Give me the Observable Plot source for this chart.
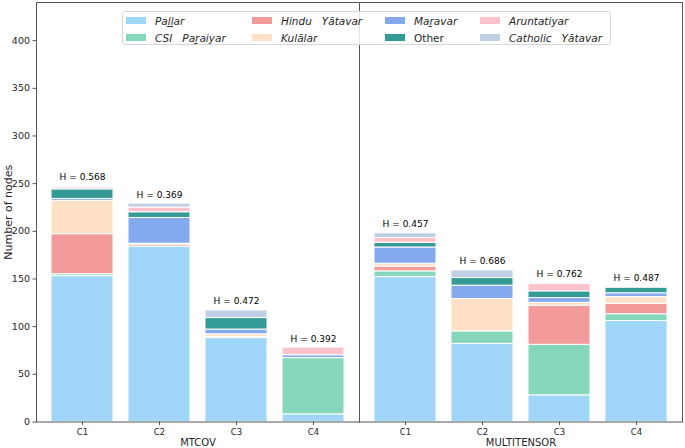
<!DOCTYPE html>
<html><head><meta charset="utf-8">
<script src="https://cdn.jsdelivr.net/npm/d3@7"></script>
<script src="https://cdn.jsdelivr.net/npm/@observablehq/plot@0.6"></script>
<style>
body{margin:0;background:#fff;}
#wrap{position:relative;width:685px;height:448px;font-family:"DejaVu Sans",sans-serif;}
#legend{position:absolute;left:122px;top:11px;width:489px;height:34px;box-sizing:border-box;
  border:1px solid #d6d6d6;border-radius:3px;background:rgba(255,255,255,0.85);
  display:grid;grid-auto-flow:column;grid-template-rows:17px 17px;grid-template-columns:126px 133px 95px auto;
  padding-left:3px;font-size:10.5px;color:#262626;}
#legend .it{display:flex;align-items:center;white-space:pre;}
#legend .sw{width:20px;height:7px;margin-right:9px;flex:none;}
</style></head><body><div id="wrap"></div>
<script>
const methods = ["MTCOV", "MULTITENSOR"];
const clusters = ["C1", "C2", "C3", "C4"];
const groups = ["Paḻḻar", "CSI   Paṟaiyar", "Hindu   Yātavar", "Kulālar", "Maṟavar", "Other", "Aruntatiyar", "Catholic   Yātavar"];
const italic = [true, true, true, true, true, false, true, true];
const colors = ["#a0d6f8", "#85d6bb", "#f29b9a", "#fde0c5", "#84a9ee", "#349b97", "#fec2cd", "#bfd0e6"];
const yLabel = "Number of nodes";
// values: MTCOV C1..C4, MULTITENSOR C1..C4
const pallar      = [153, 184, 88,  8, 152, 82, 28, 106];
const csi         = [  2,   0,  1, 59,   6, 13, 53,   7];
const hindu       = [ 42,   2,  0,  0,   5,  0, 41,  11];
const kulalar     = [ 35,   1,  3,  0,   3, 34,  3,   7];
const maravar     = [  2,  27,  5,  3,  17, 14,  5,   4];
const other       = [ 10,   6, 12,  0,   5,  8,  7,   6];
const aruntatiyar = [  2,   5,  0,  8,   5,  0,  8,   0];
const catholic    = [  1,   4,  8,  0,   5,  8,  1,   1];
const hValues     = [0.568, 0.369, 0.472, 0.392, 0.457, 0.686, 0.762, 0.487];

const series = [pallar, csi, hindu, kulalar, maravar, other, aruntatiyar, catholic];
const rows = [];
groups.forEach((g, gi) => methods.forEach((m, mi) => clusters.forEach((c, ci) => {
  const v = series[gi][mi * 4 + ci];
  if (v > 0) rows.push({group: g, method: m, cluster: c, value: v});
})));
const labels = [];
methods.forEach((m, mi) => clusters.forEach((c, ci) => {
  const total = d3.sum(series, s => s[mi * 4 + ci]);
  labels.push({method: m, cluster: c, total, text: "H = " + hValues[mi * 4 + ci].toFixed(3)});
}));

const chart = Plot.plot({
  width: 685, height: 448,
  marginLeft: 35, marginRight: 3, marginTop: 2, marginBottom: 26.5,
  style: {fontFamily: "DejaVu Sans, sans-serif", color: "#262626", background: "white"},
  fx: {domain: methods, padding: 0, axis: null},
  x: {domain: clusters, paddingInner: 0.2, paddingOuter: 0.18, axis: null},
  y: {domain: [0, 440], axis: null},
  color: {domain: groups, range: colors},
  marks: [
    Plot.barY(rows, Plot.stackY({x: "cluster", fx: "method", y: "value", fill: "group", order: null,
      stroke: "white", strokeWidth: 1})),
    Plot.text(labels, {x: "cluster", fx: "method", y: "total", text: "text", dy: -9, fontSize: 9, fill: "black", stroke: "none"}),
    Plot.frame({stroke: "#555", strokeWidth: 1}),
    Plot.axisY({anchor: "left", ticks: d3.range(0, 401, 50), tickSize: 3.5, tickPadding: 3, fontSize: 9.5,
      label: null, stroke: "#555"}),
    Plot.text([{method: methods[0], t: yLabel}], {fx: "method", text: "t", frameAnchor: "left", rotate: -90,
      textAnchor: "middle", dx: -28, fontSize: 11, fill: "#262626"}),
    Plot.axisX({anchor: "bottom", tickSize: 3.5, tickPadding: 3, fontSize: 8.5, label: null, stroke: "#555"}),
    Plot.axisFx({anchor: "bottom", tickSize: 0, tickPadding: 17, fontSize: 10, label: null})
  ]
});
const wrap = document.getElementById("wrap");
wrap.appendChild(chart);

const lg = document.createElement("div");
lg.id = "legend";
groups.forEach((g, i) => {
  const it = document.createElement("div");
  it.className = "it";
  const sw = document.createElement("span");
  sw.className = "sw";
  sw.style.background = colors[i];
  const tx = document.createElement("span");
  tx.textContent = g;
  tx.style.fontStyle = italic[i] ? "italic" : "normal";
  it.appendChild(sw); it.appendChild(tx);
  lg.appendChild(it);
});
wrap.appendChild(lg);
</script></body></html>
